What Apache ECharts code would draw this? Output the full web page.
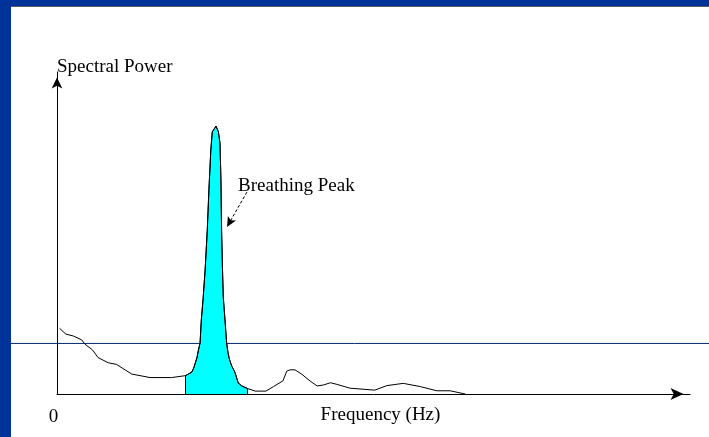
<!DOCTYPE html>
<html>
<head>
<meta charset="utf-8">
<script src="https://cdn.jsdelivr.net/npm/echarts@6/dist/echarts.min.js"></script>
<style>
  html, body { margin: 0; padding: 0; background: #fff; }
  #chart { width: 709px; height: 437px; }
</style>
</head>
<body>
<div id="chart"></div>
<script>
// frequency in Hz, power in arbitrary units (0..100)
const lowFreq = [0.004, 0.014, 0.026, 0.039, 0.044, 0.056, 0.065, 0.081, 0.094, 0.118, 0.147, 0.181]
const lowPower = [20.4, 18.6, 18.0, 16.8, 15.5, 13.7, 11.3, 9.7, 9.2, 6.2, 5.1, 5.1]

const peakFreq = [0.203, 0.213, 0.216, 0.221, 0.2235, 0.226, 0.228, 0.231, 0.234, 0.2374, 0.240, 0.243, 0.2453,
  0.2512, 0.255, 0.2575, 0.259, 0.260, 0.2615, 0.2627, 0.2654, 0.268, 0.270, 0.2722, 0.276, 0.281, 0.2864, 0.292, 0.301]
const peakPower = [5.7, 6.8, 8.1, 11.2, 13.7, 15.8, 23.0, 30.1, 38.5, 50.9, 63.4, 75.8, 81.4,
  83.2, 81.4, 77.9, 66.5, 50.9, 38.5, 30.1, 23.0, 15.8, 13.0, 10.9, 8.7, 6.8, 3.4, 2.5, 1.7]

const highFreq = [0.313, 0.330, 0.342, 0.357, 0.363, 0.368, 0.376, 0.387, 0.400, 0.411, 0.421, 0.432, 0.442,
  0.463, 0.502, 0.521, 0.547, 0.574, 0.600, 0.621, 0.645]
const highPower = [0.9, 0.9, 2.3, 4.1, 7.1, 7.5, 7.5, 6.1, 4.0, 2.5, 2.8, 3.5, 3.0,
  1.8, 1.2, 2.6, 3.3, 2.3, 1.0, 1.0, 0]

const thresholdPower = 15.7
const xTickLabels = ['0']

// annotation: label anchor and arrow (from -> to), in data units
const peakLabel = 'Breathing Peak'
const peakLabelAt = [0.286, 64.6]
const peakArrowFrom = [0.300, 62.7]
const peakArrowTo = [0.2686, 51.9]

const zip = (xs, ys) => xs.map((x, i) => [x, ys[i]])

const spectrum = zip(lowFreq, lowPower)
  .concat(zip(peakFreq, peakPower))
  .concat(zip(highFreq, highPower))

const peakArea = [[peakFreq[0], 0]]
  .concat(zip(peakFreq, peakPower))
  .concat([[peakFreq[peakFreq.length - 1], 0]])

const font = 'Liberation Serif, Times New Roman, serif'

const chart = echarts.init(document.getElementById('chart'))

const option = {
  animation: false,
  backgroundColor: '#fff',
  textStyle: { fontFamily: font },
  grid: [
    { left: 57, right: 19, top: 72, bottom: 43, outerBoundsMode: 'none', containLabel: false },
    { left: 0, right: 0, top: 72, bottom: 43, outerBoundsMode: 'none', containLabel: false }
  ],
  xAxis: [
    {
      type: 'value',
      gridIndex: 0,
      min: 0,
      max: 1,
      interval: 0.2,
      name: 'Frequency (Hz)',
      nameLocation: 'middle',
      nameGap: 21,
      nameMoveOverlap: false,
      nameTextStyle: {
        fontFamily: font,
        fontSize: 19,
        color: '#000',
        verticalAlign: 'middle',
        padding: [0, 0, 0, 14]
      },
      axisLine: {
        lineStyle: { color: '#000', width: 1 },
        symbol: ['none', 'arrow'],
        symbolSize: [9, 13],
        symbolOffset: [0, -6.5]
      },
      axisTick: { show: false },
      splitLine: { show: false },
      axisLabel: {
        show: true,
        margin: 23,
        fontFamily: font,
        fontSize: 19,
        color: '#000',
        verticalAlign: 'middle',
        padding: [0, 7, 0, 0],
        formatter: v => (v === 0 ? xTickLabels[0] : '')
      }
    },
    {
      type: 'value',
      gridIndex: 1,
      min: 0,
      max: 1,
      show: false
    }
  ],
  yAxis: [
    {
      type: 'value',
      gridIndex: 0,
      min: 0,
      max: 100,
      name: 'Spectral Power',
      nameLocation: 'end',
      nameGap: 5,
      nameTextStyle: {
        fontFamily: font,
        fontSize: 19,
        color: '#000',
        align: 'left',
        verticalAlign: 'middle'
      },
      axisLine: {
        show: true,
        lineStyle: { color: '#000', width: 1 },
        symbol: ['none', 'arrow'],
        symbolSize: [8, 11],
        symbolOffset: [0, -5.5]
      },
      axisTick: { show: false },
      axisLabel: { show: false },
      splitLine: { show: false }
    },
    {
      type: 'value',
      gridIndex: 1,
      min: 0,
      max: 100,
      show: false
    }
  ],
  graphic: [
    { type: 'rect', z: 100, shape: { x: 0, y: 0, width: 11, height: 437 }, style: { fill: '#003399' } },
    { type: 'rect', z: 100, shape: { x: 0, y: 0, width: 709, height: 6 }, style: { fill: '#003399' } },
    { type: 'rect', z: 100, shape: { x: 11, y: 6, width: 698, height: 1 }, style: { fill: '#555a66' } }
  ],
  series: [
    {
      name: 'threshold',
      type: 'line',
      xAxisIndex: 1,
      yAxisIndex: 1,
      z: 1,
      symbol: 'none',
      silent: true,
      lineStyle: { color: '#002a70', width: 1 },
      data: [[0, thresholdPower], [1, thresholdPower]]
    },
    {
      name: 'peak',
      type: 'line',
      z: 2,
      symbol: 'none',
      lineStyle: { color: '#000', width: 1 },
      areaStyle: { color: '#00ffff', opacity: 1 },
      data: peakArea
    },
    {
      name: 'spectrum',
      type: 'line',
      z: 3,
      symbol: 'none',
      lineStyle: { color: '#000', width: 1 },
      data: spectrum,
      markPoint: {
        symbol: 'circle',
        symbolSize: 0,
        silent: true,
        label: {
          show: true,
          position: 'inside',
          align: 'left',
          verticalAlign: 'middle',
          fontFamily: font,
          fontSize: 19,
          color: '#000',
          formatter: peakLabel
        },
        data: [{ coord: peakLabelAt }]
      },
      markLine: {
        silent: true,
        symbol: ['none', 'arrow'],
        symbolSize: [7, 10],
        label: { show: false },
        lineStyle: { color: '#000', width: 1, type: [3, 2] },
        data: [[{ coord: peakArrowFrom }, { coord: peakArrowTo }]]
      }
    }
  ]
}

chart.setOption(option)
</script>
</body>
</html>
